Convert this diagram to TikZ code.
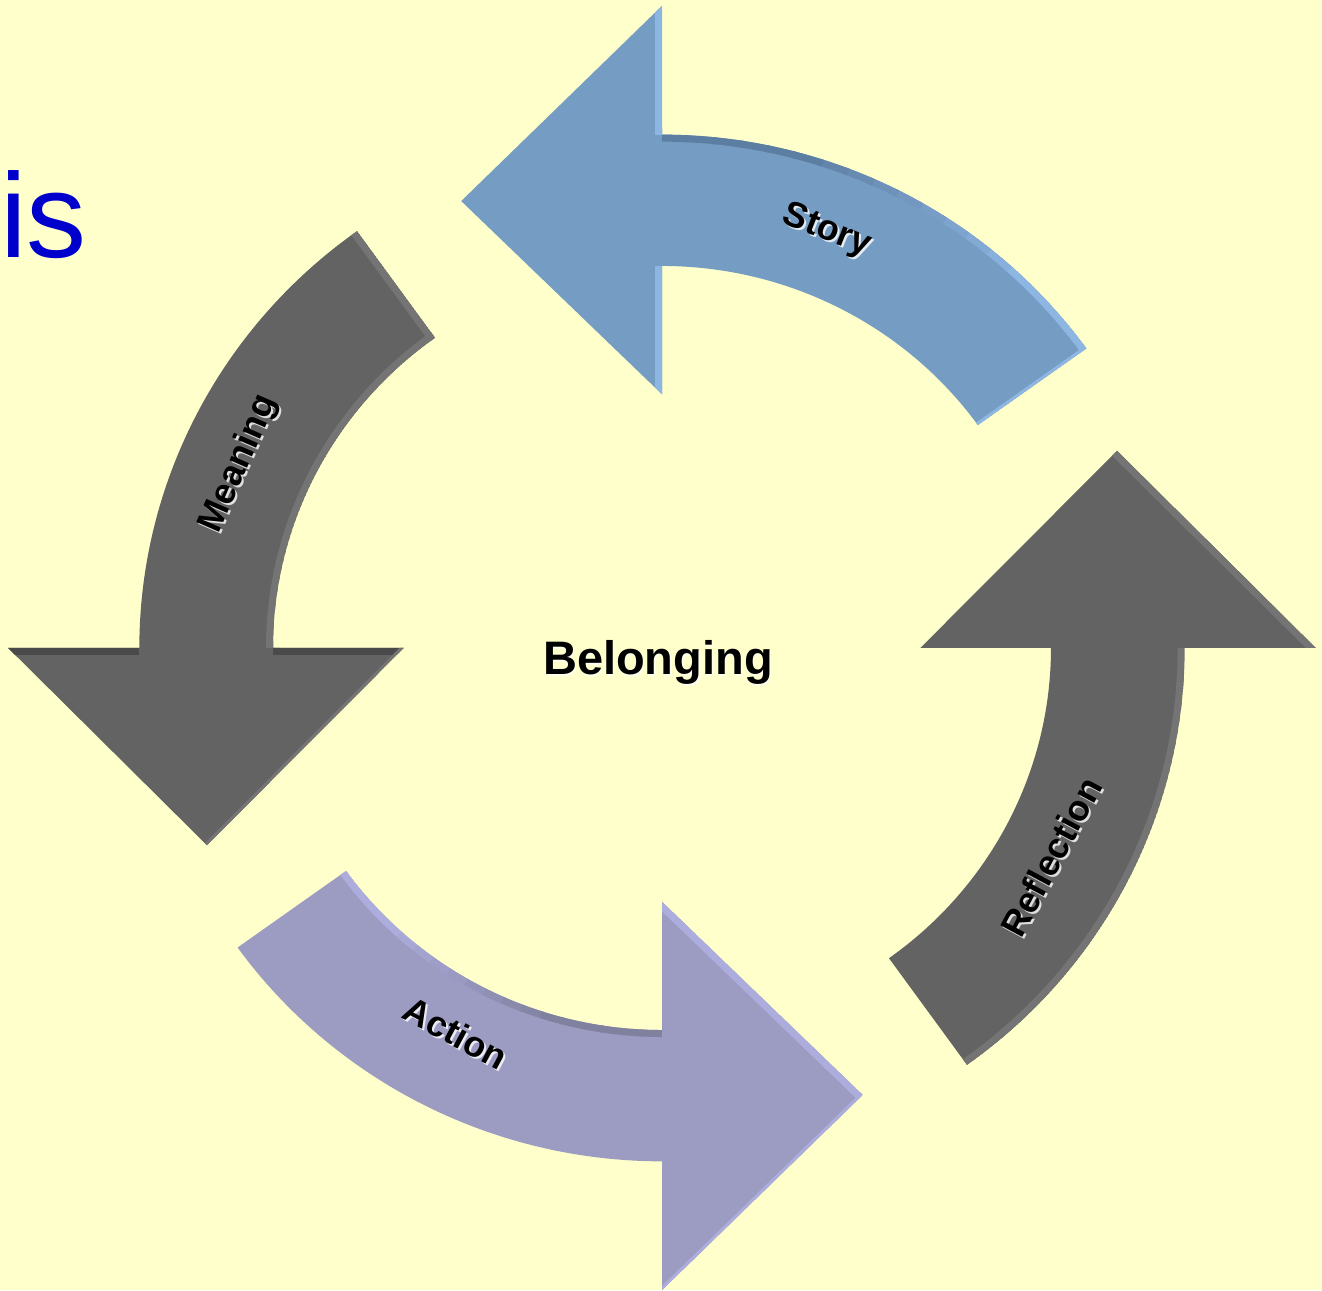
\documentclass[tikz,border=0pt]{standalone}
\usepackage{fontspec}
\setmainfont{Liberation Sans}
\definecolor{bgyellow}{HTML}{FFFFCC}
\definecolor{isblue}{HTML}{0000CC}
\definecolor{storybase}{HTML}{759CC3}
\definecolor{storylight}{HTML}{8DB6E3}
\definecolor{storydark}{HTML}{5D7EA3}
\definecolor{graybase}{HTML}{636363}
\definecolor{graylight}{HTML}{747474}
\definecolor{graydark}{HTML}{4A4A4A}
\definecolor{actbase}{HTML}{9C9CC3}
\definecolor{actlight}{HTML}{ADADDD}
\definecolor{actdark}{HTML}{80809F}
\tikzset{
  bev/.style={draw=#1,line width=14pt},
  bevthin/.style={draw=#1,line width=6pt},
  lbl/.style={font=\bfseries\fontsize{36}{36}\selectfont,text=black,inner sep=0pt},
  lblglow/.style={font=\bfseries\fontsize{36}{36}\selectfont,text=white,inner sep=0pt,opacity=0.8},
  ringframe/.style={shift={(662,642)},xscale=1.009,yscale=0.991}
}
\newcommand\arrowshape[1]{\path[#1] (35.7:518) arc[start angle=35.7,end angle=90,radius=518] -- (0,648) -- (-199,451) -- (0,256) -- (0,385.5) arc[start angle=90,end angle=35.7,radius=385.5] -- cycle;}
\newcommand\outerarc[3]{\path[#1] (#2:518) arc[start angle=#2,end angle=#3,radius=518];}
\newcommand\innerarc[3]{\path[#1] (#2:385.5) arc[start angle=#2,end angle=#3,radius=385.5];}
% graded bevel strip: #1 outer/inner macro, #2 dark colour, #3 light colour
\newcommand\gradedarc[3]{%
  \foreach \a in {33,36,...,87} {%
    \pgfmathsetmacro\e{min(\a+3.4,90)}%
    \pgfmathtruncatemacro\p{min(100,max(0,(\a-45)*100/27))}%
    #1{bev=#2!\p!#3}{\a}{\e}%
  }}
\newcommand\labelnode[5]{%
  \node[lblglow,rotate=#4] (#1glow) at (#2+2,#3-2) {#5};
  \node[lbl,rotate=#4] (#1) at (#2,#3) {#5};}
\begin{document}
\begin{tikzpicture}[x=1pt,y=1pt]
\fill[bgyellow] (0,0) rectangle (1322,1290);
\useasboundingbox (0,0) rectangle (1322,1290);

% Story (blue, top)
\begin{scope}[ringframe]
  \begin{scope}[rotate=0]
    \arrowshape{clip}
    \arrowshape{fill=storybase}
    \gradedarc{\outerarc}{storydark}{storylight}
    \path[bev=storylight] (0,518) -- (0,662);
    \path[bev=storylight] (0,240) -- (0,385.5);
    \path[bevthin=storylight] (35.7:380) -- (35.7:525);
  \end{scope}
\end{scope}

% Meaning (gray, left)
\begin{scope}[ringframe]
  \begin{scope}[rotate=90]
    \arrowshape{clip}
    \arrowshape{fill=graybase}
    \innerarc{bev=graylight}{33}{90}
    \path[bev=graydark] (0,518) -- (0,662);
    \path[bev=graydark] (0,240) -- (0,385.5);
    \path[bev=graylight] (35.7:380) -- (35.7:525);
    \path[bevthin=graylight] (-199,451) -- (0,256);
  \end{scope}
\end{scope}

% Action (purple, bottom)
\begin{scope}[ringframe]
  \begin{scope}[rotate=180]
    \arrowshape{clip}
    \arrowshape{fill=actbase}
    \gradedarc{\innerarc}{actdark}{actlight}
    \path[bev=actlight] (-199,451) -- (0,256);
    \path[bevthin=actlight] (0,648) -- (-199,451);
  \end{scope}
\end{scope}

% Reflection (gray, right)
\begin{scope}[ringframe]
  \begin{scope}[rotate=270]
    \arrowshape{clip}
    \arrowshape{fill=graybase}
    \outerarc{bev=graylight}{33}{90}
    \path[bev=graylight] (0,648) -- (-199,451);
  \end{scope}
\end{scope}

% labels
\labelnode{story}{827}{1059}{-21.6}{Story}
\labelnode{meaning}{239}{826}{66.5}{Meaning}
\labelnode{action}{456}{257}{-28.2}{Action}
\labelnode{reflection}{1051}{433}{61.8}{Reflection}

\node[font=\bfseries\fontsize{47}{47}\selectfont,inner sep=0pt,anchor=base,text=white,opacity=0.7] (belongglow) at (659.5,613.5) {Belonging};
\node[font=\bfseries\fontsize{47}{47}\selectfont,inner sep=0pt,anchor=base] (belonging) at (658,615) {Belonging};

\node[font=\fontsize{120}{120}\selectfont,text=isblue,inner sep=0pt,anchor=base west] (is) at (0,1032) {is};
\end{tikzpicture}
\end{document}
